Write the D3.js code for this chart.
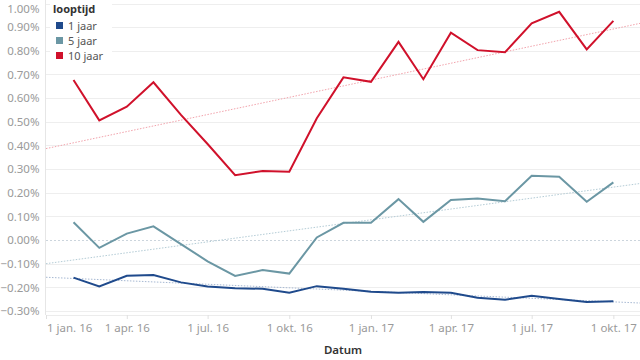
<!DOCTYPE html>
<html>
<head>
<meta charset="utf-8">
<script src="https://cdn.jsdelivr.net/npm/d3@7"></script>
<style>
  html, body { margin: 0; padding: 0; background: #fff; }
  svg { display: block; }
  text { font-family: "Noto Sans", "Open Sans", sans-serif; }
</style>
</head>
<body>
<svg id="chart" width="640" height="360"></svg>
<script>
// ---- data ----
const months = ["2016-02-01","2016-03-01","2016-04-01","2016-05-01","2016-06-01","2016-07-01",
  "2016-08-01","2016-09-01","2016-10-01","2016-11-01","2016-12-01","2017-01-01","2017-02-01",
  "2017-03-01","2017-04-01","2017-05-01","2017-06-01","2017-07-01","2017-08-01","2017-09-01","2017-10-01"];
const jaar1 = [-0.159,-0.196,-0.151,-0.148,-0.179,-0.196,-0.204,-0.206,-0.223,-0.195,-0.206,
  -0.219,-0.223,-0.220,-0.223,-0.244,-0.252,-0.236,-0.249,-0.262,-0.259];
const jaar5 = [0.075,-0.033,0.027,0.058,-0.017,-0.090,-0.152,-0.127,-0.142,0.011,0.073,
  0.073,0.173,0.077,0.169,0.176,0.164,0.272,0.268,0.162,0.244];
const jaar10 = [0.677,0.506,0.564,0.667,0.529,0.406,0.274,0.292,0.289,0.515,0.688,
  0.669,0.838,0.680,0.877,0.803,0.794,0.916,0.965,0.806,0.927];
const seriesNames = ["1 jaar","5 jaar","10 jaar"];
const seriesColors = ["#1f4a8c","#6b97a4","#d0112b"];
const trendColors = ["#a7b9d3","#b4ccd6","#f2a3ac"];
const yTicks = [1.0,0.9,0.8,0.7,0.6,0.5,0.4,0.3,0.2,0.1,0.0,-0.1,-0.2,-0.3];
const xTickDates = ["2016-01-01","2016-04-01","2016-07-01","2016-10-01","2017-01-01","2017-04-01","2017-07-01","2017-10-01"];
const xTickLabels = ["1 jan. 16","1 apr. 16","1 jul. 16","1 okt. 16","1 jan. 17","1 apr. 17","1 jul. 17","1 okt. 17"];
const legendTitle = "looptijd";
const xTitle = "Datum";

// ---- layout ----
const parse = d3.utcParse("%Y-%m-%d");
const dates = months.map(parse);
const M = { left: 46, right: 640, top: 0, bottom: 315 };
const svg = d3.select("#chart");
svg.append("rect").attr("width",640).attr("height",360).attr("fill","#fff");

const x = d3.scaleUtc().domain([parse("2016-01-01"), parse("2017-10-31")]).range([M.left, M.right]);
const y = d3.scaleLinear().domain([-0.317, 1.015]).range([M.bottom, M.top]);

// gridlines
svg.append("g").selectAll("line").data(yTicks.filter(v => v !== 0)).join("line")
  .attr("x1", M.left).attr("x2", M.right)
  .attr("y1", d => Math.round(y(d)) + 0.5).attr("y2", d => Math.round(y(d)) + 0.5)
  .attr("stroke", "#eeeeee").attr("stroke-width", 1);
// zero line
svg.append("line").attr("x1", M.left).attr("x2", M.right)
  .attr("y1", Math.round(y(0)) + 0.5).attr("y2", Math.round(y(0)) + 0.5)
  .attr("stroke", "#ccd5dd").attr("stroke-width", 1).attr("stroke-dasharray", "2,2");

// left axis line + labels
svg.append("line").attr("x1", M.left - 0.5).attr("x2", M.left - 0.5).attr("y1", 0).attr("y2", M.bottom)
  .attr("stroke", "#e6e6e6");
const yAxis = d3.axisLeft(y).tickValues(yTicks).tickSize(0).tickPadding(6)
  .tickFormat(d => d3.format(".2f")(d) + "%");
const gy = svg.append("g").attr("transform", `translate(${M.left - 0.5},0)`).call(yAxis);
gy.select(".domain").remove();
gy.selectAll("text").attr("fill", "#9a9a9a").style("font-size", "11.5px")
  .style("font-family", "'Noto Sans', sans-serif");
// keep the top label inside the picture
gy.selectAll(".tick text").each(function() {
  const b = this.getBBox();
  const ty = +this.parentNode.getAttribute("transform").match(/translate\([-\d.]+,([-\d.]+)/)[1];
  if (ty + b.y < 0) d3.select(this).attr("y", -(ty + b.y) + 0.5);
});

// bottom axis
svg.append("line").attr("x1", M.left).attr("x2", M.right).attr("y1", M.bottom + 0.5).attr("y2", M.bottom + 0.5)
  .attr("stroke", "#ececec");
const xAxis = d3.axisBottom(x).tickValues(xTickDates.map(parse)).tickSize(4).tickPadding(5)
  .tickFormat((d, i) => xTickLabels[i]);
const gx = svg.append("g").attr("transform", `translate(0,${M.bottom})`).call(xAxis);
gx.select(".domain").remove();
gx.selectAll(".tick line").attr("stroke", "#e0e0e0");
gx.selectAll("text").attr("fill", "#9a9a9a").style("font-size", "11.5px")
  .style("font-family", "'Noto Sans', sans-serif");
// keep first label inside the plot area
gx.selectAll(".tick text").each(function() {
  const t = d3.select(this);
  const tx = +this.parentNode.getAttribute("transform").match(/translate\(([-\d.]+)/)[1];
  const w = this.getComputedTextLength();
  if (tx - w / 2 < M.left) t.attr("text-anchor", "start").attr("x", M.left - tx + 1);
});

svg.append("text").attr("x", (M.left + M.right) / 2).attr("y", 354).attr("text-anchor", "middle")
  .attr("fill", "#333").style("font-size", "11.5px").style("font-weight", "600").text(xTitle);

// trend lines (least squares over time)
const allSeries = [jaar1, jaar5, jaar10];
allSeries.forEach((vals, si) => {
  const ts = dates.map(d => +d);
  const mt = d3.mean(ts), mv = d3.mean(vals);
  const slope = d3.sum(ts, (t, i) => (t - mt) * (vals[i] - mv)) / d3.sum(ts, t => (t - mt) ** 2);
  const f = t => mv + slope * (t - mt);
  const [d0, d1] = x.domain();
  svg.append("line")
    .attr("x1", x(d0)).attr("y1", y(f(+d0)))
    .attr("x2", x(d1)).attr("y2", y(f(+d1)))
    .attr("stroke", trendColors[si]).attr("stroke-width", 1).attr("stroke-dasharray", "1.5,1.5");
});

// series lines
const line = d3.line().x((d, i) => x(dates[i])).y(d => y(d));
allSeries.forEach((vals, si) => {
  svg.append("path").datum(vals).attr("d", line)
    .attr("fill", "none").attr("stroke", seriesColors[si]).attr("stroke-width", 2)
    .attr("stroke-linejoin", "miter");
});

// legend
const lg = svg.append("g");
lg.append("rect").attr("x", 50).attr("y", 0).attr("width", 62).attr("height", 62).attr("fill", "#fff");
lg.append("text").attr("x", 53).attr("y", 13).attr("fill", "#333").style("font-size", "11px")
  .style("font-weight", "700").text(legendTitle);
seriesNames.forEach((n, i) => {
  const cy = 25.5 + i * 15;
  lg.append("rect").attr("x", 56).attr("y", cy - 3.5).attr("width", 7).attr("height", 7)
    .attr("fill", seriesColors[i]);
  lg.append("text").attr("x", 68).attr("y", cy + 4).attr("fill", "#555").style("font-size", "11px").text(n);
});
</script>
</body>
</html>
